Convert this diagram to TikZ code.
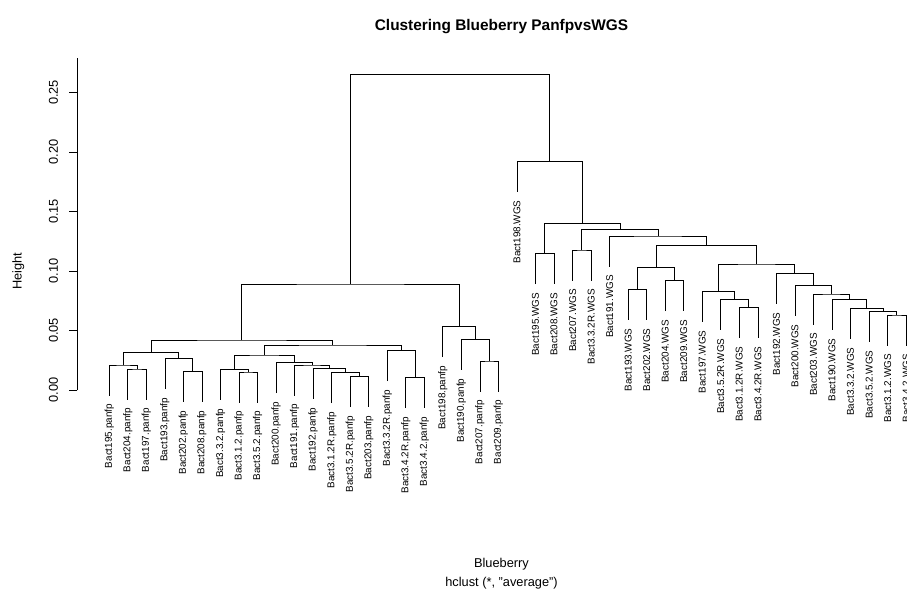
\documentclass[tikz,border=0pt]{standalone}
\usepackage{fontspec}
\setmainfont{Liberation Sans}
\usetikzlibrary{calc}
\newcommand{\mrg}[4]{%
  \path let \p1=(#2), \p2=(#3) in ({(\x1+\x2)/2},-#4pt) coordinate (#1);
  \draw[den] (#2) |- (#1) -| (#3);}
\newcommand{\dleaf}[4]{%
  \coordinate (#1) at ({#2},{#3+30.5});
  \node[lab] (t#1) at ([yshift=-8.5pt]#1) {#4};}
\begin{document}
\begin{tikzpicture}[x=1pt,y=-1pt,
  den/.style={line width=0.75pt,black},
  lab/.style={rotate=90,anchor=east,inner sep=0pt,font=\fontsize{9.9}{11}\selectfont},
  ticklab/.style={rotate=90,anchor=center,inner sep=0pt,font=\fontsize{12.8}{14}\selectfont},
  axlab/.style={inner sep=0pt,font=\fontsize{12.8}{14}\selectfont},
  titl/.style={inner sep=0pt,anchor=base,font=\fontsize{15.4}{17}\selectfont\bfseries}]
\useasboundingbox[fill=white] (0,0) rectangle (907,592);

% title and axis titles
\node[titl] (title) at (501.5,30) {Clustering Blueberry PanfpvsWGS};
\node[axlab,anchor=base] (xlab) at (501.5,567.5) {Blueberry};
\node[axlab,anchor=base] (sublab) at (501.5,586) {hclust (*, "average")};
\node[axlab,rotate=90,anchor=center] (ylab) at (18.3,271) {Height};

% y axis
\coordinate (ax0) at (77.3,390);
\coordinate (axtop) at (77.3,58.3);
\draw[den] (ax0) -- (axtop);
\foreach \k/\lbl in {0/0.00,1/0.05,2/0.10,3/0.15,4/0.20,5/0.25}{
  \coordinate (tk\k) at (77.3,{390-59.5*\k});
  \coordinate (tke\k) at (68.5,{390-59.5*\k});
  \draw[den] (tk\k) -- (tke\k);
  \node[ticklab] (ytl\k) at (53.5,{390-59.5*\k}) {\lbl};
}

% leaves
\dleaf{l1}{109.3}{365}{Bact195.panfp}
\dleaf{l2}{127.8}{369}{Bact204.panfp}
\dleaf{l3}{146.4}{369}{Bact197.panfp}
\dleaf{l4}{164.9}{358.7}{Bact193.panfp}
\dleaf{l5}{183.4}{371.3}{Bact202.panfp}
\dleaf{l6}{201.9}{371.3}{Bact208.panfp}
\dleaf{l7}{220.5}{369.3}{Bact3.3.2.panfp}
\dleaf{l8}{239.0}{372}{Bact3.1.2.panfp}
\dleaf{l9}{257.5}{372}{Bact3.5.2.panfp}
\dleaf{l10}{276.1}{362.7}{Bact200.panfp}
\dleaf{l11}{294.6}{365}{Bact191.panfp}
\dleaf{l12}{313.1}{368.3}{Bact192.panfp}
\dleaf{l13}{331.7}{372.7}{Bact3.1.2R.panfp}
\dleaf{l14}{350.2}{376.7}{Bact3.5.2R.panfp}
\dleaf{l15}{368.7}{376.7}{Bact203.panfp}
\dleaf{l16}{387.3}{350.7}{Bact3.3.2R.panfp}
\dleaf{l17}{405.8}{377.7}{Bact3.4.2R.panfp}
\dleaf{l18}{424.3}{377.7}{Bact3.4.2.panfp}
\dleaf{l19}{442.8}{326.7}{Bact198.panfp}
\dleaf{l20}{461.4}{339.3}{Bact190.panfp}
\dleaf{l21}{479.9}{361}{Bact207.panfp}
\dleaf{l22}{498.4}{361}{Bact209.panfp}
\dleaf{l23}{517.0}{161.3}{Bact198.WGS}
\dleaf{l24}{535.5}{253.7}{Bact195.WGS}
\dleaf{l25}{554.0}{253.7}{Bact208.WGS}
\dleaf{l26}{572.6}{250}{Bact207.WGS}
\dleaf{l27}{591.1}{250}{Bact3.3.2R.WGS}
\dleaf{l28}{609.6}{236}{Bact191.WGS}
\dleaf{l29}{628.2}{289.3}{Bact193.WGS}
\dleaf{l30}{646.7}{289.3}{Bact202.WGS}
\dleaf{l31}{665.2}{280.7}{Bact204.WGS}
\dleaf{l32}{683.8}{280.7}{Bact209.WGS}
\dleaf{l33}{702.3}{291.3}{Bact197.WGS}
\dleaf{l34}{720.8}{299.3}{Bact3.5.2R.WGS}
\dleaf{l35}{739.3}{307.3}{Bact3.1.2R.WGS}
\dleaf{l36}{757.9}{307.3}{Bact3.4.2R.WGS}
\dleaf{l37}{776.4}{273.3}{Bact192.WGS}
\dleaf{l38}{794.9}{285.3}{Bact200.WGS}
\dleaf{l39}{813.5}{294}{Bact203.WGS}
\dleaf{l40}{832.0}{299.3}{Bact190.WGS}
\dleaf{l41}{850.5}{308.3}{Bact3.3.2.WGS}
\dleaf{l42}{869.1}{311.3}{Bact3.5.2.WGS}
\dleaf{l43}{887.6}{315}{Bact3.1.2.WGS}
\dleaf{l44}{906.1}{315}{Bact3.4.2.WGS}

% merges, left (panfp)
\mrg{m23}{l2}{l3}{369}
\mrg{m123}{l1}{m23}{365}
\mrg{m56}{l5}{l6}{371.3}
\mrg{m456}{l4}{m56}{358.7}
\mrg{mA}{m123}{m456}{352.7}
\mrg{m89}{l8}{l9}{372}
\mrg{m789}{l7}{m89}{369.3}
\mrg{m1415}{l14}{l15}{376.7}
\mrg{m13}{l13}{m1415}{372.7}
\mrg{m12}{l12}{m13}{368.3}
\mrg{m11}{l11}{m12}{365}
\mrg{m10}{l10}{m11}{362.7}
\mrg{mB}{m789}{m10}{355}
\mrg{m1718}{l17}{l18}{377.7}
\mrg{m16}{l16}{m1718}{350.7}
\mrg{mC}{mB}{m16}{345}
\mrg{mD}{mA}{mC}{340}
\mrg{m2122}{l21}{l22}{361}
\mrg{m20}{l20}{m2122}{339.3}
\mrg{m19}{l19}{m20}{326.7}
\mrg{mL}{mD}{m19}{284}
% merges, right (WGS)
\mrg{m2425}{l24}{l25}{253.7}
\mrg{m2627}{l26}{l27}{250}
\mrg{m2930}{l29}{l30}{289.3}
\mrg{m3132}{l31}{l32}{280.7}
\mrg{mG29}{m2930}{m3132}{267.7}
\mrg{m3536}{l35}{l36}{307.3}
\mrg{m34}{l34}{m3536}{299.3}
\mrg{m33}{l33}{m34}{291.3}
\mrg{m4344}{l43}{l44}{315}
\mrg{m42}{l42}{m4344}{311.3}
\mrg{m41}{l41}{m42}{308.3}
\mrg{m40}{l40}{m41}{299.3}
\mrg{m39}{l39}{m40}{294}
\mrg{m38}{l38}{m39}{285.3}
\mrg{m37}{l37}{m38}{273.3}
\mrg{mG33}{m33}{m37}{264}
\mrg{mG2944}{mG29}{mG33}{245.7}
\mrg{m28}{l28}{mG2944}{236}
\mrg{m26}{m2627}{m28}{229.3}
\mrg{m24}{m2425}{m26}{223.3}
\mrg{mR}{l23}{m24}{161.3}
\mrg{root}{mL}{mR}{74.3}
\end{tikzpicture}
\end{document}
